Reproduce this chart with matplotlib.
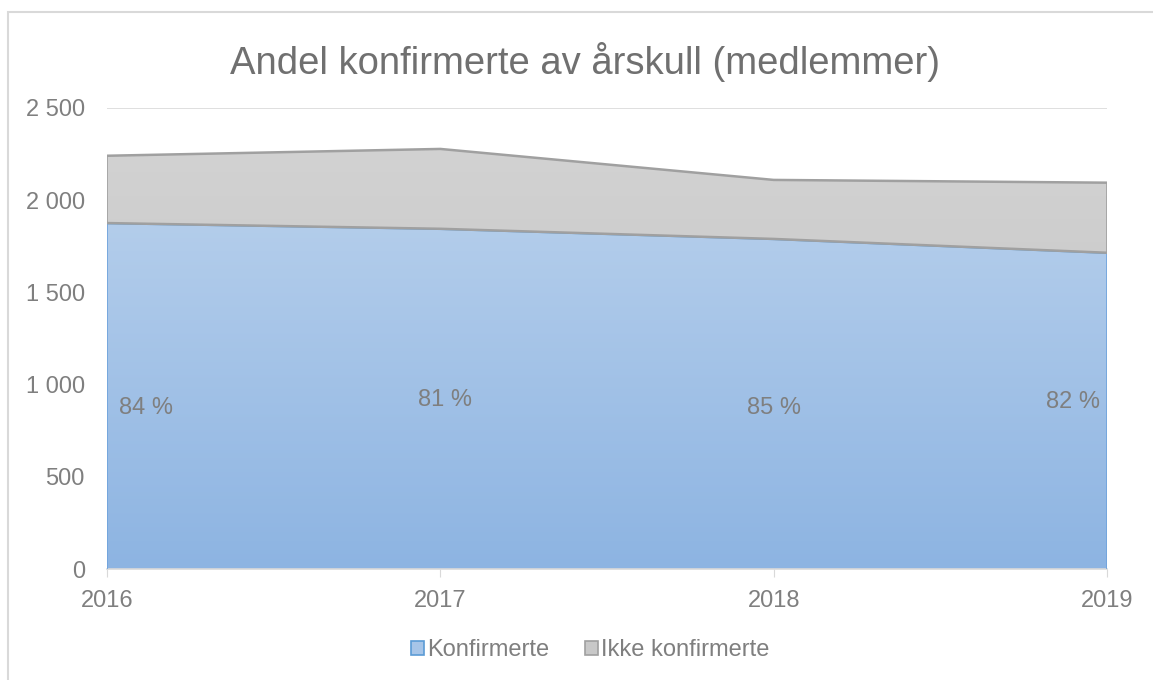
import matplotlib.pyplot as plt
import numpy as np
from matplotlib.colors import LinearSegmentedColormap
from matplotlib.patches import Rectangle

plt.rcParams['font.family'] = ['Liberation Sans', 'DejaVu Sans']

years = [2016, 2017, 2018, 2019]
konfirmerte = [1876, 1845, 1790, 1715]
ikke_konfirmerte = [365, 433, 320, 380]
andel = [84, 81, 85, 82]
andel_y = [873, 916, 873, 905]
label_ha = ['left', 'center', 'center', 'right']
label_dx = [0.035, 0.015, 0.0, -0.02]

grey_txt = '#7f7f7f'

fig = plt.figure(figsize=(11.53, 6.80), dpi=100)
ax = fig.add_axes([107 / 1153, 1 - 569 / 680, 1000 / 1153, (569 - 108) / 680])

# frame around the chart area (right and bottom edges fall outside the image)
fig.add_artist(Rectangle((8 / 1153, -0.1), 1.2, 1 - 12 / 680 + 0.1, transform=fig.transFigure,
                         fill=False, edgecolor='#d9d9d9', linewidth=1.5))

x = np.array(years, dtype=float)
k = np.array(konfirmerte, dtype=float)
tot = k + np.array(ikke_konfirmerte, dtype=float)

ax.set_xlim(years[0], years[-1])
ax.set_ylim(0, 2500)
ax.set_yticks([0, 500, 1000, 1500, 2000, 2500])
ax.set_yticklabels(['0', '500', '1 000', '1 500', '2 000', '2 500'])
ax.set_xticks(years)
ax.grid(axis='y', color='#d9d9d9', linewidth=1.2)
ax.set_axisbelow(True)
for s in ['top', 'right', 'left']:
    ax.spines[s].set_visible(False)
ax.spines['bottom'].set_color('#d9d9d9')
ax.spines['bottom'].set_linewidth(1.2)
ax.tick_params(axis='y', length=0, pad=16, labelsize=17, labelcolor=grey_txt)
ax.tick_params(axis='x', length=6, color='#d9d9d9', pad=9, labelsize=17, labelcolor=grey_txt)


def grad_fill(lower, upper, c_top, c_bot, edge, z):
    poly = ax.fill_between(x, lower, upper, facecolor='none', edgecolor='none', zorder=z)
    cmap = LinearSegmentedColormap.from_list('g', [c_bot, c_top])
    grad = np.linspace(0, 1, 256).reshape(-1, 1)
    im = ax.imshow(grad, cmap=cmap, aspect='auto', origin='lower',
                   extent=[x[0], x[-1], 0, upper.max()], zorder=z)
    im.set_clip_path(poly.get_paths()[0], transform=ax.transData)
    ax.plot(x, upper, color=edge, linewidth=1.8, zorder=z + 0.5)
    return poly


grad_fill(np.zeros_like(k), k, '#b3cdeb', '#8db4e2', '#5b9bd5', 2)
ax.plot([x[0], x[0]], [0, k[0]], color='#6fa3dc', linewidth=1.2, zorder=3)
ax.plot([x[-1], x[-1]], [0, k[-1]], color='#6fa3dc', linewidth=1.2, zorder=3)
grad_fill(k, tot, '#d2d2d2', '#c0c0c0', '#a0a0a0', 4)
ax.plot([x[0], x[0]], [k[0], tot[0]], color='#a0a0a0', linewidth=1.2, zorder=5)
ax.plot([x[-1], x[-1]], [k[-1], tot[-1]], color='#a0a0a0', linewidth=1.2, zorder=5)
ax.plot(x, k, color='#a0a0a0', linewidth=1.8, zorder=5)
ax.set_xlim(years[0], years[-1])
ax.set_ylim(0, 2500)

for xi, yi, v, ha, dx in zip(years, andel_y, andel, label_ha, label_dx):
    ax.text(xi + dx, yi, f'{v} %', ha=ha, va='center', fontsize=17, color=grey_txt, zorder=6)

fig.text(585 / 1153, 1 - 62 / 680, 'Andel konfirmerte av årskull (medlemmer)',
         ha='center', va='center', fontsize=27.5, color='#707070')

h1 = Rectangle((0, 0), 1, 1, facecolor='#a7c5e8', edgecolor='#5b9bd5', linewidth=1.2)
h2 = Rectangle((0, 0), 1, 1, facecolor='#c8c8c8', edgecolor='#a0a0a0', linewidth=1.2)
leg = fig.legend([h1, h2], ['Konfirmerte', 'Ikke konfirmerte'], loc='center',
                 bbox_to_anchor=(590 / 1153, 1 - 650 / 680), ncol=2, frameon=False,
                 fontsize=17, handlelength=0.55, handleheight=0.55, handletextpad=0.15,
                 columnspacing=1.5)
for t in leg.get_texts():
    t.set_color(grey_txt)

fig.savefig('out.png', dpi=100)
